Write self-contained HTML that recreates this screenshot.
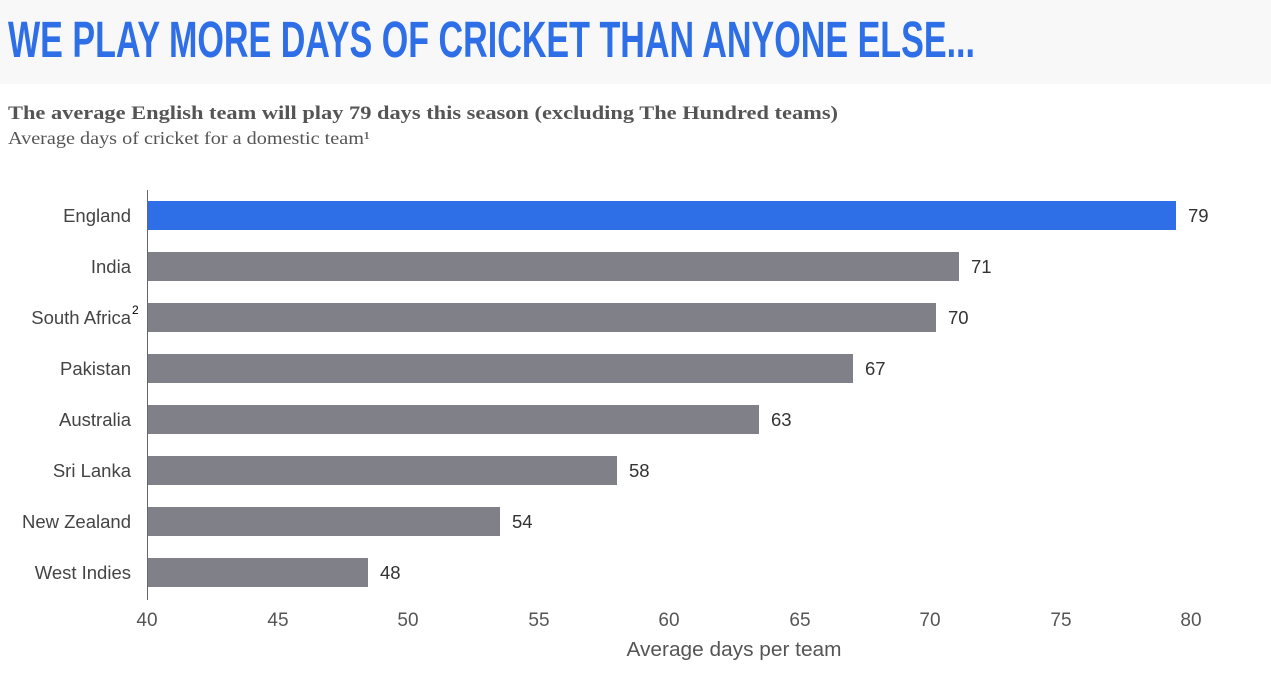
<!DOCTYPE html>
<html><head><meta charset="utf-8"><style>
html,body{margin:0;padding:0;background:#fff;width:1271px;height:679px;overflow:hidden}
</style></head><body>
<svg width="1271" height="679" xmlns="http://www.w3.org/2000/svg">
<rect x="0" y="0" width="1271" height="84" fill="#f8f8f8"/>
<text x="8" y="57" font-family="Liberation Sans, sans-serif" font-weight="bold" font-size="51" fill="#2e6fe8" textLength="967" lengthAdjust="spacingAndGlyphs">WE PLAY MORE DAYS OF CRICKET THAN ANYONE ELSE...</text>
<text x="8" y="119" font-family="Liberation Serif, serif" font-weight="bold" font-size="19" fill="#555" textLength="830" lengthAdjust="spacingAndGlyphs">The average English team will play 79 days this season (excluding The Hundred teams)</text>
<text x="8" y="144" font-family="Liberation Serif, serif" font-size="18" fill="#555" textLength="362" lengthAdjust="spacingAndGlyphs">Average days of cricket for a domestic team¹</text>
<g font-family="Liberation Sans, sans-serif" font-size="18.5" fill="#333">
<rect x="148" y="201" width="1028" height="29" fill="#2e6fe8"/>
<rect x="148" y="252" width="811" height="29" fill="#808088"/>
<rect x="148" y="303" width="788" height="29" fill="#808088"/>
<rect x="148" y="354" width="705" height="29" fill="#808088"/>
<rect x="148" y="405" width="611" height="29" fill="#808088"/>
<rect x="148" y="456" width="469" height="29" fill="#808088"/>
<rect x="148" y="507" width="352" height="29" fill="#808088"/>
<rect x="148" y="558" width="220" height="29" fill="#808088"/>
<g fill="#333">
<text x="1188" y="222">79</text><text x="971" y="273">71</text><text x="948" y="324">70</text>
<text x="865" y="375">67</text><text x="771" y="426">63</text><text x="629" y="477">58</text>
<text x="512" y="528">54</text><text x="380" y="579">48</text>
</g>
<g text-anchor="end" fill="#444">
<text x="131" y="222">England</text><text x="131" y="273">India</text><text x="131" y="324">South Africa</text>
<text x="131" y="375">Pakistan</text><text x="131" y="426">Australia</text><text x="131" y="477">Sri Lanka</text>
<text x="131" y="528">New Zealand</text><text x="131" y="579">West Indies</text>
</g>
<text x="132" y="314" font-size="12" fill="#000">2</text>
<line x1="147.5" y1="190" x2="147.5" y2="600" stroke="#666" stroke-width="1"/>
<g text-anchor="middle" fill="#555" font-size="19">
<text x="147" y="626">40</text><text x="278" y="626">45</text><text x="408" y="626">50</text>
<text x="539" y="626">55</text><text x="669" y="626">60</text><text x="800" y="626">65</text>
<text x="930" y="626">70</text><text x="1061" y="626">75</text><text x="1191" y="626">80</text>
<text x="734" y="656" font-size="20.5" textLength="215" lengthAdjust="spacingAndGlyphs">Average days per team</text>
</g>
</g>
</svg>
</body></html>
